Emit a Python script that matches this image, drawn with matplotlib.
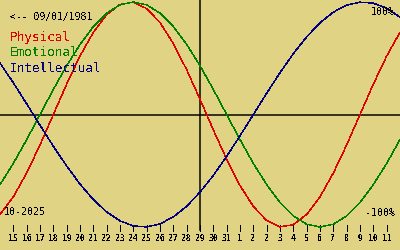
import matplotlib
matplotlib.use("Agg")
import matplotlib.pyplot as plt
import matplotlib.transforms as mtransforms

# ---- data ----
days = list(range(31))  # day offsets from the left edge (14 Oct 2025)
physical = [-0.888, -0.731, -0.520, -0.270, 0.0, 0.270, 0.520, 0.731, 0.888, 0.979,
            0.998, 0.942, 0.817, 0.631, 0.398, 0.136, -0.136, -0.398, -0.631, -0.817,
            -0.942, -0.998, -0.979, -0.888, -0.731, -0.520, -0.270, 0.0, 0.270, 0.520, 0.731]
emotional = [-0.623, -0.434, -0.223, 0.0, 0.223, 0.434, 0.623, 0.782, 0.901, 0.975,
             1.0, 0.975, 0.901, 0.782, 0.623, 0.434, 0.223, 0.0, -0.223, -0.434,
             -0.623, -0.782, -0.901, -0.975, -1.0, -0.975, -0.901, -0.782, -0.623, -0.434, -0.223]
intellectual = [0.458, 0.282, 0.095, -0.095, -0.282, -0.458, -0.618, -0.756, -0.866, -0.945,
                -0.990, -0.999, -0.972, -0.910, -0.815, -0.690, -0.541, -0.372, -0.189, 0.0,
                0.189, 0.372, 0.541, 0.690, 0.815, 0.910, 0.972, 0.999, 0.990, 0.945, 0.866]
tick_days = list(range(1, 30))
tick_labels = ["15", "16", "17", "18", "19", "20", "21", "22", "23", "24", "25", "26", "27",
               "28", "29", "30", "31", "1", "2", "2", "3", "4", "5", "6", "7", "8", "9", "10", "11"]
today = 15
birth_label = "<-- 09/01/1981"
month_label = "10-2025"
series_names = ["Physical", "Emotional", "Intellectual"]

# ---- style ----
BG = "#E0D384"
COLORS = ["#E00000", "#008000", "#000080"]
plt.rcParams["text.antialiased"] = False
FONT = "DejaVu Sans Mono"

fig = plt.figure(figsize=(4, 2.5), dpi=100, facecolor=BG)
ax = fig.add_axes([0, 0, 1, 1])
ax.set_facecolor(BG)
ax.set_xlim(0, 30)
ax.set_ylim(-1.204, 1.018)
ax.axis("off")

px = 0.72
ax.axhline(0, color="black", lw=1.5 * px, zorder=1)
ax.axvline(today, ymin=0.08, ymax=1, color="black", lw=1.5 * px, zorder=1)

for vals, c in zip([physical, emotional, intellectual], COLORS):
    ax.plot(days, vals, color=c, lw=0.3, antialiased=False, zorder=3)

# ticks along the bottom
bt = mtransforms.blended_transform_factory(ax.transData, ax.transAxes)
ax.vlines(tick_days, 0.078, 0.1, transform=bt, color="black", lw=0.6, antialiased=False)
for d, lab in zip(tick_days, tick_labels):
    ax.text(d, 0.047, lab, transform=bt, ha="center", va="center",
            fontsize=5.8, fontweight="bold", family=FONT, color="black")

# labels
ax.text(0.025, 0.932, birth_label, transform=ax.transAxes, ha="left", va="center",
        fontsize=7.0, family=FONT, color="black")
for i, (name, c) in enumerate(zip(series_names, COLORS)):
    ax.text(0.025, 0.848 - i * 0.06, name, transform=ax.transAxes, ha="left", va="center",
            fontsize=9.2, family=FONT, color=c)
ax.text(0.01, 0.152, month_label, transform=ax.transAxes, ha="left", va="center",
        fontsize=7.2, family=FONT, color="black")
ax.text(0.988, 0.148, "-100%", transform=ax.transAxes, ha="right", va="center",
        fontsize=7.2, family=FONT, color="black")
ax.text(0.988, 0.952, "100%", transform=ax.transAxes, ha="right", va="center",
        fontsize=7.2, family=FONT, color="black")

fig.savefig("out.png", dpi=100, facecolor=BG)
